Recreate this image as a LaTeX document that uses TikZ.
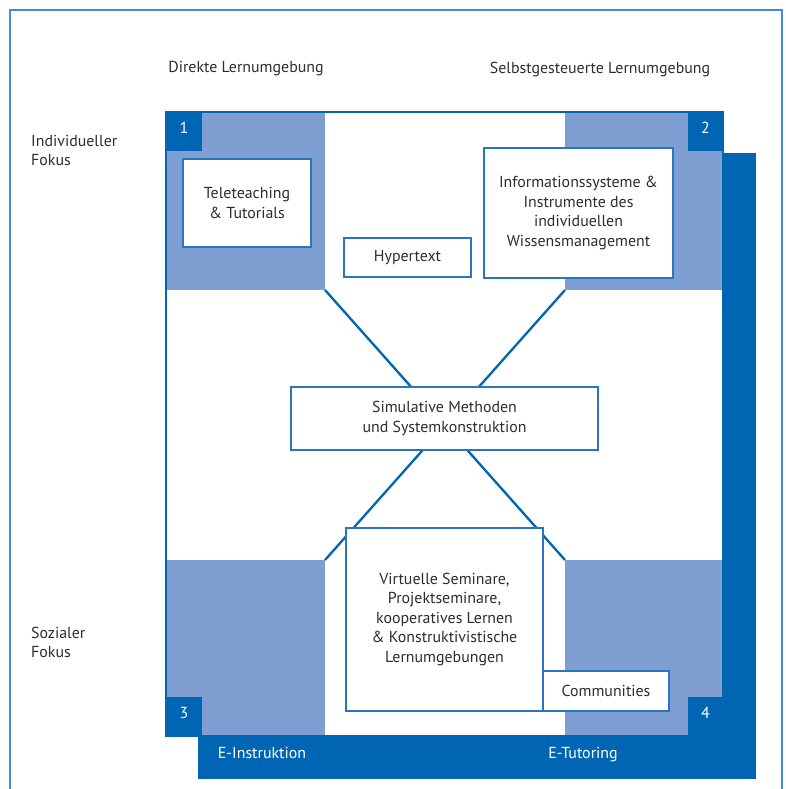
\documentclass[tikz,border=0pt]{standalone}
\usepackage{fontspec}
\setmainfont{PT Sans}
\usepackage{tikz}
\usetikzlibrary{
  positioning
}
\definecolor{darkblue}{RGB}{0,102,179}
\definecolor{lightblue}{RGB}{127,158,210}
\definecolor{lineblue}{RGB}{40,118,192}
\definecolor{frameblue}{RGB}{70,140,210}
\definecolor{textgray}{RGB}{45,45,45}

\tikzset{
  textbox/.style={draw=lineblue, line width=1.3pt, fill=white, align=center, text=textgray, inner sep=0pt},
  numbox/.style={fill=darkblue, text=white, minimum width=36pt, minimum height=39pt, text depth=7pt, inner sep=0pt, font=\fontsize{16}{18}\selectfont},
  captext/.style={text=textgray, align=left, inner sep=0pt},
  diag/.style={draw=darkblue, line width=2.3pt}
}

\begin{document}
\begin{tikzpicture}[x=1pt, y=-1pt, font=\fontsize{15.9}{19.5}\selectfont]
		\useasboundingbox (0,0) rectangle (786,789);

		% frame
		\draw[frameblue, line width=1.2pt] (10,789) -- (10,10) -- (782,10) -- (782,789);

		% shadow and square
		\fill[darkblue] (198,153) rectangle (756,779);
		\draw[darkblue, fill=white, line width=1.5pt] (166,112) rectangle (723,736);

		% quadrants
		\fill[lightblue] (167,113) rectangle (325,290);
		\fill[lightblue] (565,113) rectangle (722,290);
		\fill[lightblue] (167,560) rectangle (325,735);
		\fill[lightblue] (565,560) rectangle (722,735);
		\coordinate (tl) at (325,290);
		\coordinate (tr) at (565,290);
		\coordinate (bl) at (325,560);
		\coordinate (br) at (565,560);

		\node[numbox] (n1) at (184,131.5) {1};
		\node[numbox] (n2) at (705.5,131.5) {2};
		\node[numbox] (n3) at (184,716.5) {3};
		\node[numbox] (n4) at (705.5,716.5) {4};

		% diagonals
		\draw[diag] (tl) -- (br);
		\draw[diag] (tr) -- (bl);

		% boxes
		\node[textbox, minimum width=128pt, minimum height=88pt] (tele) at (247,203) {Teleteaching\\\& Tutorials};
		\node[textbox, minimum width=127pt, minimum height=39pt] (hyper) at (407.5,257.5) {Hypertext};
		\node[textbox, minimum width=189pt, minimum height=130pt] (info) at (578.5,213) {Informationssysteme \&\\Instrumente des\\individuellen\\Wissensmanagement};
		\node[textbox, minimum width=307pt, minimum height=63pt] (simul) at (444.5,418.5) {Simulative Methoden\\und Systemkonstruktion};
		\node[textbox, minimum width=197pt, minimum height=183pt] (virt) at (444.5,619.5) {Virtuelle Seminare,\\Projektseminare,\\kooperatives Lernen\\\& Konstruktivistische\\Lernumgebungen};
		\node[textbox, minimum width=126pt, minimum height=40pt] (comm) at (606,691) {Communities};

		% axis captions
		\node[captext] (direkt) at (246,69) {Direkte Lernumgebung};
		\node[captext] (selbst) at (600,70) {Selbstgesteuerte Lernumgebung};
		\node[captext, anchor=west] (indiv) at (31,150.5) {Individueller\\Fokus};
		\node[captext, anchor=west] (sozial) at (31,642.5) {Sozialer\\Fokus};
		\node[captext, text=white, anchor=base] (einstr) at (262,758) {E-Instruktion};
		\node[captext, text=white, anchor=base] (etut) at (583,758) {E-Tutoring};
	\end{tikzpicture}
\end{document}
